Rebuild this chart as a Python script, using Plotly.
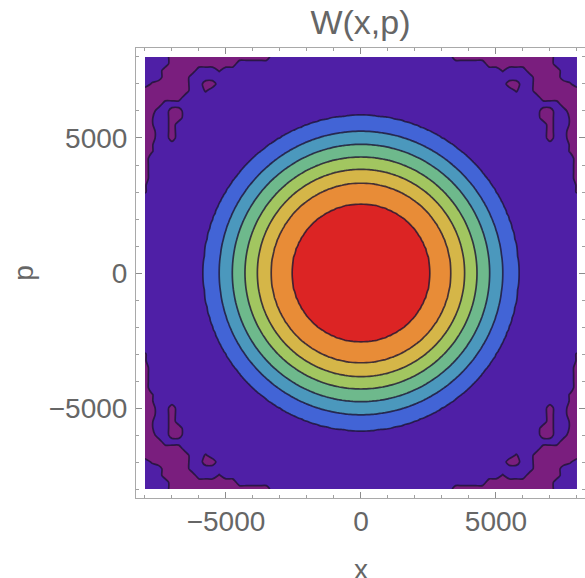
import numpy as np
import plotly.graph_objects as go

# ---- data ----
# radial profile of W: radius of each contour ring (x/p units) and its level
ring_radius = [0, 2567, 3333, 3840, 4296, 4765, 5247, 5833, 6600, 12000]
ring_value = [8.6, 7, 6, 5, 4, 3, 2, 1, 0.5, 0.5]
ring_levels = [1, 2, 3, 4, 5, 6, 7]

# band colours from outside (background) to the centre
band_colors = ["#4f1fa6", "#4264d6", "#4b98bd", "#6eb98c",
               "#a2c660", "#d5b648", "#e88c37", "#dc2424"]
low_color = "#7a1e7e"   # negative (lowest) band in the corners

x_ticks = [-5000, 0, 5000]
p_ticks = [-5000, 0, 5000]

# sampling grids
x_fine = np.arange(-8000, 8001, 100)
p_fine = np.arange(-8000, 8001, 100)
x_coarse = np.arange(-8000, 8001, 250)
p_coarse = np.arange(-8000, 8001, 250)

# low (negative) noise patches in the top-left quarter (rows: p from 8000 down
# to 0, columns: x from -8000 to 0); the field is mirror-symmetric in x and p.
noise_rows = [
    "....###############",
    "....##########",
    "...#####...+",
    "...####",
    ".+#####..##",
    "#######..+",
    "######",
    "###",
    "##..##",
    "#+..##",
    "#+..#",
    "##..#",
    "##..#",
    "#+",
    "#+",
    "#",
    "#",
    "#",
    "#",
    "+",
    "+",
]
noise_depth = {"#": 0.5, "+": 0.1, ".": -0.5}

# ---- main (radial) field ----
XX, PP = np.meshgrid(x_fine, p_fine)
Z_main = np.interp(np.sqrt(XX ** 2 + PP ** 2), ring_radius, ring_value)

# ---- corner noise field (positive inside the low patches) ----
n = len(x_coarse)
half = n // 2
quarter = [row.ljust(half + 1, ".") for row in noise_rows]
quarter += ["." * (half + 1)] * (half + 1 - len(quarter))
Z_low = np.empty((n, n))
for m in range(n):
    j = half - abs(m - half)
    for k in range(n):
        i = half - abs(k - half)
        Z_low[m, k] = noise_depth[quarter[j][i]]

# stepwise colour scale: band b sampled at b/(nb-1)
nb = len(band_colors)
colorscale = []
for b, c in enumerate(band_colors):
    s = max(0.0, (b - 0.5) / (nb - 1))
    e = min(1.0, (b + 0.5) / (nb - 1))
    colorscale.append([s, c])
    colorscale.append([e, c])

line_color = "rgba(30,20,50,0.8)"

fig = go.Figure()
fig.add_trace(go.Contour(
    x=x_fine, y=p_fine, z=Z_main,
    colorscale=colorscale, showscale=False,
    autocontour=False,
    contours=dict(start=ring_levels[0], end=ring_levels[-1], size=1,
                  coloring="fill", showlines=True),
    line=dict(color=line_color, width=1.7, smoothing=1),
    hoverinfo="skip",
))
fig.add_trace(go.Contour(
    x=x_coarse, y=p_coarse, z=Z_low,
    colorscale=[[0, "rgba(0,0,0,0)"], [0.5, "rgba(0,0,0,0)"],
                [0.5, low_color], [1, low_color]],
    showscale=False, autocontour=False,
    contours=dict(start=0, end=0.5, size=1, coloring="fill", showlines=True),
    line=dict(color=line_color, width=1.7, smoothing=0.7),
    hoverinfo="skip",
))

font_family = "Liberation Sans, Arial, sans-serif"
text_color = "#666666"
axis_common = dict(
    showline=True, linecolor="#a9a9a9", linewidth=1, mirror="ticks",
    ticks="inside", ticklen=6, tickwidth=1, tickcolor="#8c8c8c",
    minor=dict(dtick=1000, ticks="inside", ticklen=3, tickcolor="#a0a0a0", tickwidth=1),
    showgrid=False, zeroline=False, automargin=False,
    tickfont=dict(family=font_family, size=28, color=text_color),
)

fig.update_layout(
    width=585, height=578,
    margin=dict(l=136, r=0, t=48, b=80),
    paper_bgcolor="white", plot_bgcolor="white",
    title=dict(text="W(x,p)", x=0.5, xref="paper", y=1 - 22 / 578, yref="container",
               xanchor="center", yanchor="middle",
               font=dict(family=font_family, size=34, color=text_color)),
    xaxis=dict(range=[-8333, 8297], tickvals=x_ticks, ticklabelstandoff=-2,
               **axis_common),
    yaxis=dict(range=[-8333, 8333], tickvals=p_ticks, ticklabelstandoff=2,
               title=dict(text="p", standoff=6,
                          font=dict(family=font_family, size=28, color=text_color)),
               **axis_common),
    annotations=[dict(text="x", xref="paper", yref="paper", x=0.5, y=-71 / 450,
                      xanchor="center", yanchor="middle", showarrow=False,
                      font=dict(family=font_family, size=28, color=text_color))],
    showlegend=False,
)

fig.write_html("out.html", config={"displayModeBar": False},
               post_script="document.body.style.margin='0';")
